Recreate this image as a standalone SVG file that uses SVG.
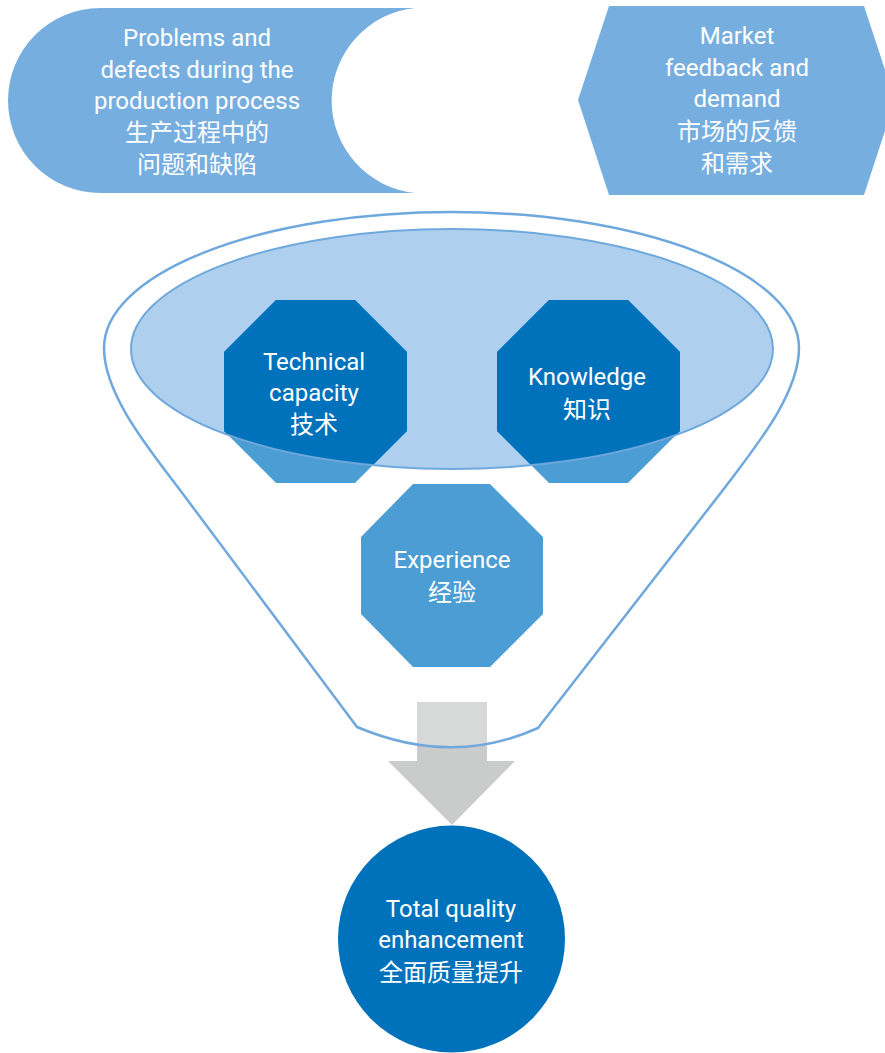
<svg xmlns="http://www.w3.org/2000/svg" width="885" height="1053" viewBox="0 0 885 1053">
  <style>
    .t { font-family: Roboto, "Noto Sans CJK SC", sans-serif; font-size: 24px; fill: #ffffff; text-anchor: middle; }
    .zh { font-family: "Noto Sans CJK SC", sans-serif; font-size: 24px; fill: #ffffff; text-anchor: middle; }
    .top { fill: #77aee0; }
    .med { fill: #4c9dd3; }
    .dark { fill: #0072bc; }
  </style>
  <defs>
    <clipPath id="ellClip">
      <ellipse cx="452" cy="349" rx="321" ry="120"/>
    </clipPath>
  </defs>

  <g id="connectors">
    <polygon id="arrow" points="417,702 487,702 487,761 515,761 452,825 388,761 417,761" fill="#cacbcb"/>
  </g>

  <g id="funnel">
    <path d="M 104,348 A 347.5 136 0 0 1 799,348 C 799,395 753,450 723,490 L 538,728 Q 452,767 357,727 L 180,490 C 150,450 104,395 104,348 Z" fill="#ffffff" fill-opacity="0.25" stroke="#6fa8dc" stroke-width="2.5"/>
    <ellipse cx="452" cy="349" rx="321" ry="120" fill="#aed0ee"/>
  </g>

  <g id="node-problems">
    <path class="top" d="M 100.5,8 L 415,8 A 93 93 0 0 0 415,193 L 100.5,193 A 92.5 92.5 0 0 1 100.5,8 Z"/>
    <text class="t" x="197" y="46">Problems and</text>
    <text class="t" x="197" y="78">defects during the</text>
    <text class="t" x="197" y="109">production process</text>
    <text class="zh" x="197" y="141">生产过程中的</text>
    <text class="zh" x="197" y="173">问题和缺陷</text>
  </g>

  <g id="node-market">
    <polygon class="top" points="609,6 864,6 895,100 864,195 609,195 578,100"/>
    <text class="t" x="737" y="44">Market</text>
    <text class="t" x="737" y="76">feedback and</text>
    <text class="t" x="737" y="107">demand</text>
    <text class="zh" x="737" y="140">市场的反馈</text>
    <text class="zh" x="737" y="172">和需求</text>
  </g>

  <g id="node-technical">
    <polygon class="med" points="276,300 355,300 407,352 407,431 355,483 276,483 224,431 224,352"/>
    <polygon class="dark" clip-path="url(#ellClip)" points="276,300 355,300 407,352 407,431 355,483 276,483 224,431 224,352"/>
  </g>

  <g id="node-knowledge">
    <polygon class="med" points="549,300 628,300 680,352 680,431 628,483 549,483 497,431 497,352"/>
    <polygon class="dark" clip-path="url(#ellClip)" points="549,300 628,300 680,352 680,431 628,483 549,483 497,431 497,352"/>
  </g>

  <ellipse cx="452" cy="349" rx="321" ry="120" fill="none" stroke="#6fa8dc" stroke-width="2"/>

  <g id="labels-inner">
    <text class="t" x="314" y="370">Technical</text>
    <text class="t" x="314" y="401">capacity</text>
    <text class="zh" x="314" y="433">技术</text>
    <text class="t" x="587" y="385">Knowledge</text>
    <text class="zh" x="587" y="418">知识</text>
  </g>

  <g id="node-experience">
    <polygon class="med" points="413,484 490,484 543,537 543,614 490,667 413,667 361,614 361,537"/>
    <text class="t" x="452" y="568">Experience</text>
    <text class="zh" x="452" y="601">经验</text>
  </g>

  <g id="node-total">
    <circle class="dark" cx="451.5" cy="939" r="113.5"/>
    <text class="t" x="451" y="917">Total quality</text>
    <text class="t" x="451" y="948">enhancement</text>
    <text class="zh" x="451" y="981">全面质量提升</text>
  </g>
</svg>
